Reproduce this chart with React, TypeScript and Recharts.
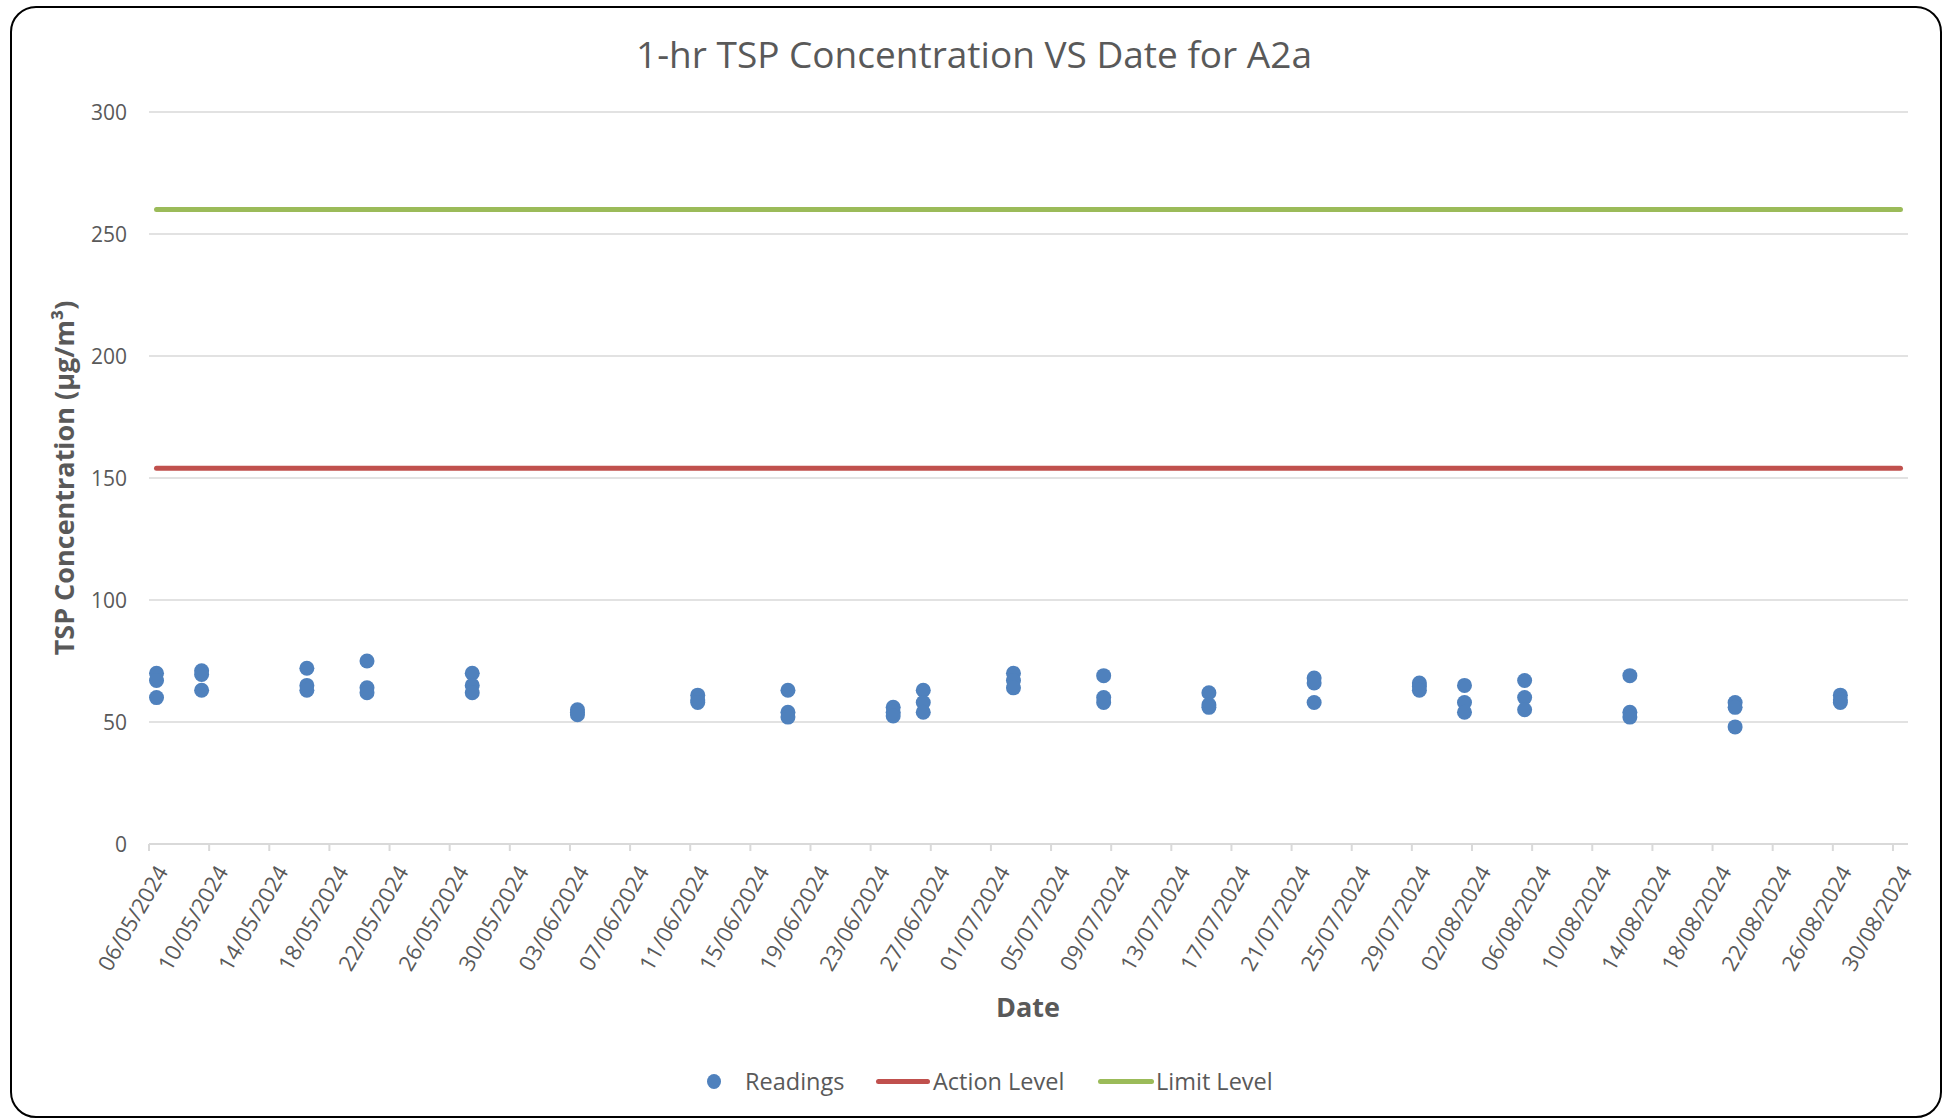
import React from 'react';
import { ComposedChart, Scatter, XAxis, YAxis, CartesianGrid } from 'recharts';

// ---- data ----
const readingDates = [
  '06/05/2024', '09/05/2024', '16/05/2024', '20/05/2024', '27/05/2024',
  '03/06/2024', '11/06/2024', '17/06/2024', '24/06/2024', '26/06/2024',
  '02/07/2024', '08/07/2024', '15/07/2024', '22/07/2024', '29/07/2024',
  '01/08/2024', '05/08/2024', '12/08/2024', '19/08/2024', '26/08/2024',
];
const readingsFirst = [70, 71, 72, 75, 70, 55, 61, 63, 56, 63, 70, 69, 62, 68, 66, 65, 67, 69, 58, 61];
const readingsSecond = [67, 69.5, 65, 64, 65, 54, 59, 54, 54, 58, 67, 60, 57, 66, 64.5, 58, 60, 54, 56, 59];
const readingsThird = [60, 63, 63, 62, 62, 53, 58, 52, 52.5, 54, 64, 58, 56, 58, 63, 54, 55, 52, 48, 58];

const xTickLabels = [
  '06/05/2024', '10/05/2024', '14/05/2024', '18/05/2024', '22/05/2024', '26/05/2024',
  '30/05/2024', '03/06/2024', '07/06/2024', '11/06/2024', '15/06/2024', '19/06/2024',
  '23/06/2024', '27/06/2024', '01/07/2024', '05/07/2024', '09/07/2024', '13/07/2024',
  '17/07/2024', '21/07/2024', '25/07/2024', '29/07/2024', '02/08/2024', '06/08/2024',
  '10/08/2024', '14/08/2024', '18/08/2024', '22/08/2024', '26/08/2024', '30/08/2024',
];
const yTicks = [0, 50, 100, 150, 200, 250, 300];
const actionLevel = 154;
const limitLevel = 260;

// ---- derived ----
const toDay = (s: string) => {
  const [d, m, y] = s.split('/').map(Number);
  return Date.UTC(y, m - 1, d) / 86400000;
};
const day0 = toDay(xTickLabels[0]);
const dayPos = (s: string) => toDay(s) - day0;
const xTicks = xTickLabels.map(dayPos);
const lastDay = dayPos(xTickLabels[xTickLabels.length - 1]);
const xDomain = [0, lastDay + 1];

const readingPoints = readingDates.flatMap((d, i) =>
  [readingsFirst[i], readingsSecond[i], readingsThird[i]].map((v) => ({ x: dayPos(d) + 0.5, y: v }))
);
const actionData = [
  { x: 0.5, y: actionLevel },
  { x: lastDay + 0.5, y: actionLevel },
];
const limitData = [
  { x: 0.5, y: limitLevel },
  { x: lastDay + 0.5, y: limitLevel },
];

const FONT = '"Open Sans", sans-serif';
const TEXT = '#595959';
const BLUE = '#4f81bd';
const RED = '#c0504d';
const GREEN = '#9bbb59';
const GRID = '#d9d9d9';

const XTick = (props: any) => {
  const { x, y, payload } = props;
  const idx = xTicks.indexOf(payload.value);
  const label = idx >= 0 ? xTickLabels[idx] : '';
  const ax = x + 12;
  const ay = y + 14;
  return (
    <text
      x={ax}
      y={ay}
      textAnchor="end"
      dominantBaseline="central"
      transform={`rotate(-60 ${ax} ${ay})`}
      fontFamily={FONT}
      fontSize={22}
      fill={TEXT}
    >
      {label}
    </text>
  );
};

const YTick = (props: any) => {
  const { x, y, payload } = props;
  return (
    <text x={x - 14} y={y} textAnchor="end" dominantBaseline="central" fontFamily={FONT} fontSize={21} fill={TEXT}>
      {payload.value}
    </text>
  );
};

const Dot = (props: any) => <circle cx={props.cx} cy={props.cy} r={7.5} fill={BLUE} />;
const NoDot = () => <g />;

export default function App() {
  return (
    <div style={{ position: 'absolute', left: 0, top: 0, width: 1948, height: 1120, background: '#fff', overflow: 'hidden' }}>
      <div
        style={{
          position: 'absolute',
          left: 10,
          top: 6,
          width: 1928,
          height: 1108,
          border: '2px solid #000',
          borderRadius: 26,
        }}
      />
      <div
        style={{
          position: 'absolute',
          left: 0,
          top: 32,
          width: 1948,
          textAlign: 'center',
          fontFamily: FONT,
          fontSize: 37,
          lineHeight: '44px',
          color: TEXT,
        }}
      >
        1-hr TSP Concentration VS Date for A2a
      </div>
      <div style={{ position: 'absolute', left: 0, top: 0 }}>
        <ComposedChart width={1948} height={1120} margin={{ top: 112, right: 40, bottom: 246, left: 89 }}>
          <CartesianGrid vertical={false} stroke={GRID} strokeWidth={1.5} />
          <XAxis
            type="number"
            dataKey="x"
            domain={xDomain}
            ticks={xTicks}
            interval={0}
            allowDataOverflow
            height={30}
            axisLine={{ stroke: GRID, strokeWidth: 2 }}
            tickLine={{ stroke: GRID, strokeWidth: 2 }}
            tickSize={7}
            tick={<XTick />}
          />
          <YAxis
            type="number"
            dataKey="y"
            domain={[0, 300]}
            ticks={yTicks}
            interval={0}
            width={60}
            axisLine={false}
            tickLine={false}
            tick={<YTick />}
          />
          <Scatter
            name="Limit Level"
            data={limitData}
            line={{ stroke: GREEN, strokeWidth: 5, strokeLinecap: 'round' }}
            shape={<NoDot />}
            isAnimationActive={false}
          />
          <Scatter
            name="Action Level"
            data={actionData}
            line={{ stroke: RED, strokeWidth: 5, strokeLinecap: 'round' }}
            shape={<NoDot />}
            isAnimationActive={false}
          />
          <Scatter name="Readings" data={readingPoints} fill={BLUE} shape={<Dot />} isAnimationActive={false} />
        </ComposedChart>
      </div>
      <div
        style={{
          position: 'absolute',
          left: 63,
          top: 478,
          transform: 'translate(-50%, -50%) rotate(-90deg)',
          whiteSpace: 'nowrap',
          fontFamily: FONT,
          fontWeight: 700,
          fontSize: 27,
          color: TEXT,
        }}
      >
        TSP Concentration (µg/m³)
      </div>
      <div
        style={{
          position: 'absolute',
          left: 1028,
          top: 1006,
          transform: 'translate(-50%, -50%)',
          whiteSpace: 'nowrap',
          fontFamily: FONT,
          fontWeight: 700,
          fontSize: 27,
          color: TEXT,
        }}
      >
        Date
      </div>
      {/* legend */}
      <div style={{ position: 'absolute', left: 0, top: 0, fontFamily: FONT, fontSize: 23.5, color: TEXT }}>
        <div style={{ position: 'absolute', left: 707, top: 1074, width: 14, height: 15, borderRadius: '50%', background: BLUE }} />
        <div style={{ position: 'absolute', left: 745, top: 1081, transform: 'translateY(-50%)', whiteSpace: 'nowrap' }}>Readings</div>
        <div style={{ position: 'absolute', left: 876, top: 1079, width: 54, height: 5, borderRadius: 3, background: RED }} />
        <div style={{ position: 'absolute', left: 933, top: 1081, transform: 'translateY(-50%)', whiteSpace: 'nowrap' }}>Action Level</div>
        <div style={{ position: 'absolute', left: 1098, top: 1079, width: 56, height: 5, borderRadius: 3, background: GREEN }} />
        <div style={{ position: 'absolute', left: 1156, top: 1081, transform: 'translateY(-50%)', whiteSpace: 'nowrap' }}>Limit Level</div>
      </div>
    </div>
  );
}
